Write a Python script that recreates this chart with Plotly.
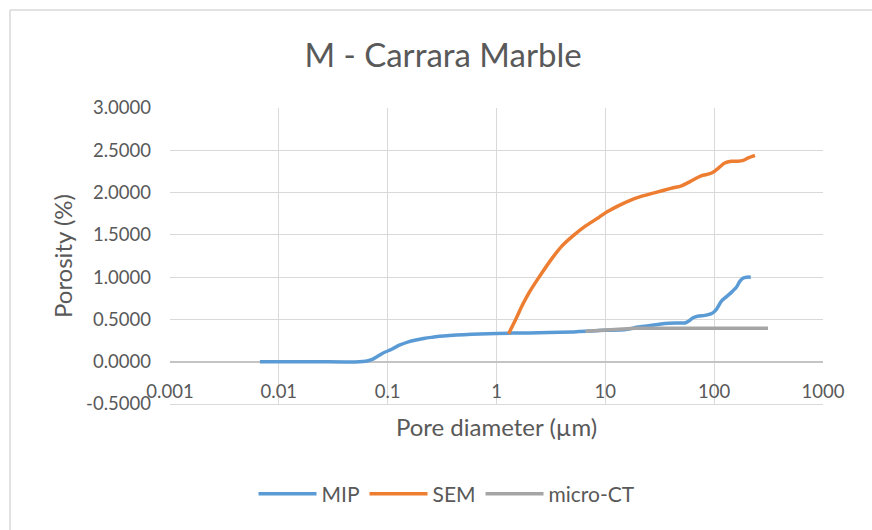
import plotly.graph_objects as go

# ---- data ----
mip_x = [0.0067, 0.01, 0.02, 0.04, 0.05, 0.059, 0.066, 0.073, 0.09, 0.11, 0.128, 0.155,
         0.182, 0.22, 0.26, 0.3, 0.37, 0.5, 0.7, 1, 2, 3, 5, 5.7, 8, 10, 15, 20, 25, 35,
         45, 54, 58, 64, 72, 82, 95, 105, 117, 130, 144, 160, 172, 185, 200, 217]
mip_y = [0, 0, 0, -0.002, -0.003, 0.002, 0.012, 0.03, 0.1, 0.15, 0.195, 0.235,
         0.257, 0.278, 0.29, 0.30, 0.31, 0.32, 0.328, 0.335, 0.341, 0.345, 0.352, 0.356, 0.365,
         0.372, 0.378, 0.41, 0.425, 0.452, 0.458, 0.458, 0.478, 0.52, 0.54, 0.548, 0.57, 0.62,
         0.72, 0.77, 0.82, 0.88, 0.95, 0.99, 1.0, 1.0]

sem_x = [1.29, 1.5, 1.73, 2.0, 2.46, 3.25, 4.0, 5.17, 6.5, 8.8, 10, 13, 16.3, 22, 28.7, 40,
         50.2, 60, 76.6, 90, 100, 112, 125, 144, 165, 185, 205, 237]
sem_y = [0.33, 0.5, 0.67, 0.82, 1.0, 1.225, 1.37, 1.5, 1.6, 1.71, 1.76, 1.84, 1.9, 1.96, 2.0,
         2.05, 2.08, 2.13, 2.2, 2.22, 2.25, 2.3, 2.35, 2.37, 2.37, 2.38, 2.41, 2.44]

ct_x = [6.56, 10, 15, 18.8, 50, 100, 312]
ct_y = [0.36, 0.375, 0.39, 0.396, 0.396, 0.396, 0.396]

x_ticks = [0.001, 0.01, 0.1, 1, 10, 100, 1000]
x_ticklabels = ["0.001", "0.01", "0.1", "1", "10", "100", "1000"]
y_ticks = [-0.5, 0, 0.5, 1.0, 1.5, 2.0, 2.5, 3.0]
y_ticklabels = ["-0.5000", "0.0000", "0.5000", "1.0000", "1.5000", "2.0000", "2.5000", "3.0000"]

FONT = "Lato"
TXT = "#595959"
GRID = "#d9d9d9"

fig = go.Figure()
fig.add_trace(go.Scatter(x=mip_x, y=mip_y, name="MIP", mode="lines",
                         line=dict(color="#5B9BD5", width=3.5, shape="spline", smoothing=0.6)))
fig.add_trace(go.Scatter(x=sem_x, y=sem_y, name="SEM", mode="lines",
                         line=dict(color="#ED7D31", width=3.5, shape="spline", smoothing=0.6)))
fig.add_trace(go.Scatter(x=ct_x, y=ct_y, name="micro-CT", mode="lines",
                         line=dict(color="#A5A5A5", width=3.5)))

fig.update_layout(
    width=872, height=530,
    margin=dict(l=170, r=49, t=108, b=126),
    paper_bgcolor="white", plot_bgcolor="white",
    font=dict(family=FONT, color=TXT),
    title=dict(text="M - Carrara Marble", x=443 / 872, xref="container", xanchor="center",
               y=1 - 55 / 530, yanchor="middle", font=dict(size=33, color=TXT, family=FONT)),
    showlegend=True,
    legend=dict(orientation="h", x=447 / 872, xanchor="center", xref="container",
                y=1 - 494 / 530, yanchor="middle", yref="container",
                font=dict(size=21, color=TXT, family=FONT), itemwidth=58),
    shapes=[
        dict(type="line", xref="paper", yref="paper", x0=(10 - 170) / 653, x1=(872 - 170) / 653,
             y0=(404 - 10) / 296, y1=(404 - 10) / 296, line=dict(color=GRID, width=1.5)),
        dict(type="line", xref="paper", yref="paper", x0=(10 - 170) / 653, x1=(10 - 170) / 653,
             y0=(404 - 10) / 296, y1=(404 - 535) / 296, line=dict(color=GRID, width=1.5)),
    ],
)
fig.update_xaxes(
    type="log", range=[-3, 3], tickvals=x_ticks, ticktext=x_ticklabels,
    showgrid=True, gridcolor=GRID, gridwidth=1.3,
    showline=True, linecolor=GRID, linewidth=1.3, mirror=False,
    ticks="", tickfont=dict(size=18.5, color=TXT, family=FONT),
    ticklabelstandoff=-29,
    title=dict(text="Pore diameter (µm)", font=dict(size=24, color=TXT, family=FONT), standoff=17),
)
fig.update_yaxes(
    range=[-0.5, 3.0], tickvals=y_ticks, ticktext=y_ticklabels,
    showgrid=True, gridcolor=GRID, gridwidth=1.3,
    zeroline=True, zerolinecolor="#c4c4c4", zerolinewidth=1.5,
    showline=False, ticks="", tickfont=dict(size=18.5, color=TXT, family=FONT),
    ticklabelstandoff=18,
    title=dict(text="Porosity (%)", font=dict(size=24, color=TXT, family=FONT), standoff=6),
)

fig.write_html("out.html")
